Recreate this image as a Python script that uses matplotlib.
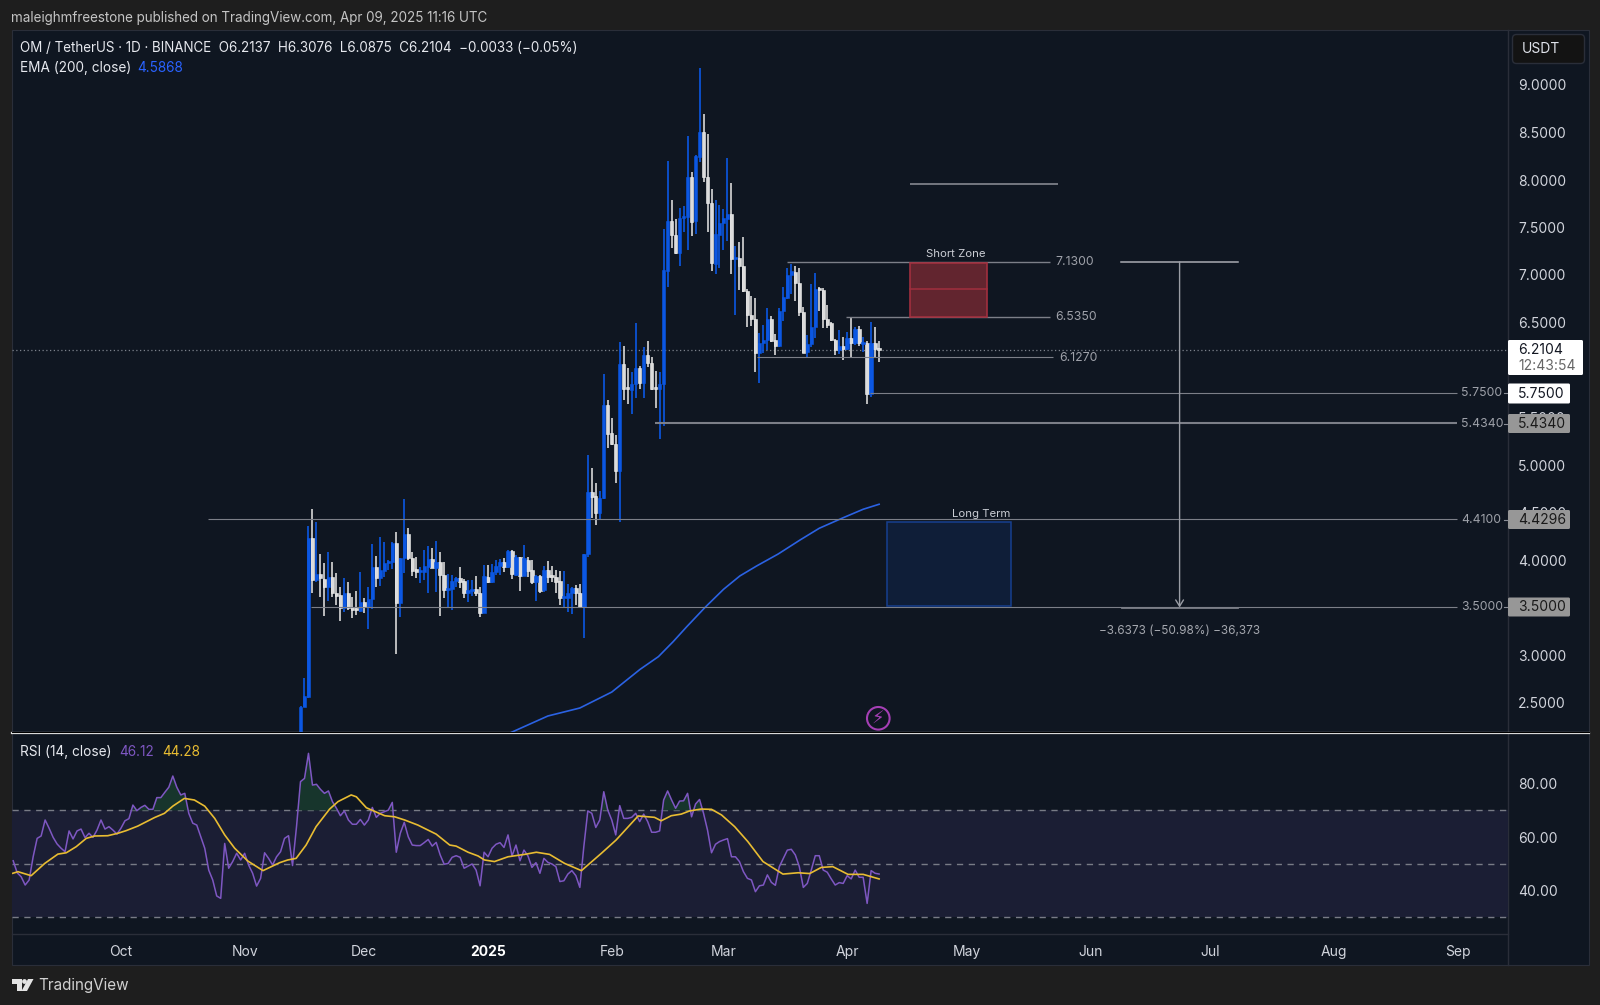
import pandas as pd
import numpy as np
import matplotlib
matplotlib.use("Agg")
import matplotlib.pyplot as plt
import matplotlib.dates as mdates
from matplotlib.patches import Rectangle, FancyBboxPatch, Polygon, Circle

plt.rcParams['font.family'] = ['Inter', 'DejaVu Sans']

# Candles, daily from 2024-11-15
candle_start = "2024-11-15"
opens = [2.000,2.456,2.561,4.228,3.789,3.849,3.800,3.719,3.824,3.656,
         3.631,3.491,3.649,3.509,3.491,3.466,3.561,3.502,3.586,3.923,
         3.807,3.888,3.965,3.982,4.175,3.551,4.017,4.270,4.017,3.902,
         3.877,3.877,3.930,4.007,3.919,3.975,3.842,3.684,3.695,3.779,
         3.807,3.779,3.656,3.677,3.691,3.656,3.445,3.824,3.772,3.877,
         3.937,3.975,3.923,4.098,3.842,4.028,3.835,4.000,3.895,3.772,
         3.831,3.684,3.895,3.831,3.824,3.779,3.596,3.603,3.649,3.702,
         3.656,3.502,4.063,4.712,4.677,4.498,4.649,5.631,5.333,5.221,
         4.940,6.063,5.807,5.789,5.853,6.017,5.860,6.158,6.070,5.800,
         5.796,5.852,7.045,7.565,7.424,7.228,7.600,7.614,8.035,7.565,
         8.245,8.502,8.028,7.754,7.116,7.421,7.544,7.593,7.642,7.165,
         7.175,7.098,6.835,6.575,6.533,6.175,6.287,6.315,6.533,6.315,
         6.252,6.624,6.754,7.000,7.031,6.912,6.614,6.189,6.273,6.449,
         6.849,6.842,6.533,6.491,6.315,6.210,6.256,6.217,6.333,6.280,
         6.435,6.273,6.280,5.743,6.280,6.2137]
highs = [2.463,2.754,4.358,4.533,4.403,4.063,3.965,4.081,3.982,3.859,
         3.719,3.814,3.765,3.614,3.674,3.870,3.596,3.712,4.168,4.042,
         4.245,4.193,4.000,4.193,4.298,4.017,4.638,4.333,4.088,4.035,
         3.930,4.105,4.147,4.123,4.203,4.081,3.982,3.849,3.842,3.817,
         3.930,3.800,3.789,3.789,3.835,3.712,3.947,3.947,3.958,4.000,
         4.007,4.017,4.105,4.105,4.052,4.035,4.158,4.035,4.000,3.842,
         3.842,3.937,3.989,3.937,3.895,3.888,3.888,3.747,3.719,3.737,
         3.744,4.063,5.105,4.965,4.807,4.730,5.958,5.684,5.491,5.316,
         6.298,6.253,6.017,5.982,6.490,6.042,6.239,6.305,6.133,5.993,
         5.982,7.480,8.200,7.789,7.586,7.701,7.726,8.463,8.087,8.263,
         9.175,8.695,8.484,7.902,7.789,7.733,7.691,8.235,7.965,7.305,
         7.351,7.403,6.849,6.779,6.754,6.386,6.473,6.649,6.568,6.379,
         6.649,6.877,7.070,7.116,7.095,7.070,6.666,6.368,6.905,7.024,
         6.877,6.859,6.684,6.508,6.322,6.421,6.351,6.403,6.543,6.456,
         6.463,6.351,6.305,6.501,6.456,6.3076]
lows = [1.900,2.450,2.544,3.656,3.772,3.614,3.410,3.572,3.607,3.526,
        3.361,3.456,3.473,3.386,3.421,3.456,3.445,3.273,3.480,3.719,
        3.726,3.824,3.895,3.902,3.010,3.403,3.867,4.000,3.831,3.807,
        3.761,3.789,3.649,3.912,3.666,3.410,3.603,3.509,3.473,3.719,
        3.709,3.596,3.561,3.621,3.621,3.403,3.438,3.761,3.754,3.842,
        3.842,3.877,3.912,3.796,3.835,3.677,3.830,3.824,3.747,3.572,
        3.649,3.666,3.754,3.765,3.656,3.526,3.491,3.456,3.428,3.526,
        3.491,3.175,4.035,4.438,4.368,4.428,4.640,5.175,5.210,4.814,
        4.403,5.684,5.642,5.533,5.702,5.796,5.702,6.028,5.790,5.603,
        5.274,5.410,6.877,7.280,7.221,7.098,7.452,7.263,7.410,7.431,
        8.186,7.982,7.449,7.045,7.010,7.070,7.263,7.361,7.010,6.579,
        6.842,6.824,6.456,6.463,5.982,5.859,6.175,6.210,6.298,6.158,
        6.245,6.519,6.747,6.796,6.730,6.568,6.175,6.140,6.245,6.333,
        6.624,6.438,6.438,6.308,6.158,6.168,6.105,6.210,6.123,6.263,
        6.252,6.193,5.642,5.712,6.123,6.0875]
closes = [2.456,2.568,4.228,3.789,3.849,3.807,3.719,3.824,3.656,3.624,
          3.491,3.649,3.491,3.473,3.473,3.561,3.502,3.586,3.930,3.807,
          3.895,3.965,3.982,4.175,3.551,4.017,4.270,4.017,3.888,3.877,
          3.888,3.937,4.007,3.919,3.982,3.842,3.684,3.702,3.779,3.807,
          3.772,3.656,3.684,3.691,3.656,3.445,3.831,3.772,3.877,3.937,
          3.982,3.923,4.098,3.852,4.035,3.835,4.017,3.888,3.772,3.831,
          3.677,3.895,3.824,3.817,3.772,3.596,3.614,3.656,3.702,3.656,
          3.502,4.063,4.712,4.667,4.498,4.649,5.631,5.326,5.221,4.940,
          6.063,5.796,5.796,5.853,6.017,5.860,6.158,6.070,5.796,5.796,
          5.853,7.052,7.565,7.424,7.228,7.600,7.614,8.035,7.561,8.252,
          8.502,8.035,7.754,7.123,7.431,7.544,7.600,7.642,7.165,7.179,
          7.098,6.835,6.575,6.540,6.182,6.287,6.315,6.533,6.305,6.252,
          6.624,6.765,7.000,7.042,6.912,6.614,6.182,6.273,6.449,6.849,
          6.842,6.533,6.473,6.315,6.210,6.256,6.217,6.333,6.280,6.435,
          6.280,6.280,5.743,6.280,6.217,6.2104]

# EMA 200, days counted from 2024-10-01
ema_days = [97,107,115,120,123,130.1,134.7,138.4,141.8,146.4,151,155.1,159.3,164.7,170.2,175,181,186,190]
ema_values = [2.17,2.358,2.442,2.547,2.61,2.849,2.983,3.141,3.298,3.502,3.691,3.832,3.937,4.063,4.211,4.334,4.445,4.534,4.5868]

# RSI, daily from 2024-09-04
rsi_start = "2024-09-04"
rsi_values = [51.1,46.6,45.1,42.0,43.9,52.6,59.5,60.4,66.4,63.3,59.9,57.4,55.8,54.5,62.3,59.3,62.3,63.0,59.8,61.4,
              59.9,62.6,66.4,63.0,63.9,62.6,61.1,63.3,66.1,66.9,72.0,69.9,71.1,71.9,70.4,70.4,74.8,74.8,76.8,78.7,
              82.9,78.7,75.8,76.4,68.9,65.2,64.5,60.1,55.8,47.6,43.9,37.9,37.0,57.6,48.3,50.8,53.9,51.4,53.9,49.5,
              46.4,41.6,44.5,54.1,52.0,49.5,52.6,54.5,59.5,60.5,49.3,63.9,80.8,82.0,91.4,79.5,79.8,77.9,76.4,77.3,
              73.3,70.8,68.0,69.8,66.4,64.8,64.8,66.6,64.5,66.4,71.1,67.4,68.9,69.5,70.1,73.0,54.3,61.4,65.5,60.1,
              57.0,56.8,56.8,57.9,59.1,56.6,58.0,53.3,49.8,50.1,52.4,53.0,52.4,48.3,49.1,49.9,47.6,41.7,54.3,52.6,
              55.8,57.3,57.9,56.1,60.8,52.9,57.0,51.1,55.1,52.9,48.6,50.4,46.4,52.0,50.5,49.9,48.9,43.3,43.6,46.1,
              47.4,45.5,41.1,56.4,69.8,68.9,63.6,66.4,77.0,70.1,66.4,60.8,71.8,67.0,67.0,67.4,68.9,65.8,68.6,65.8,
              61.8,61.8,62.3,73.9,77.3,73.9,70.8,73.5,73.6,76.4,67.6,72.4,74.1,68.9,62.6,54.1,57.3,58.3,58.9,59.4,
              52.6,52.6,50.8,47.0,44.5,43.9,39.5,41.7,42.0,45.8,43.0,41.9,48.9,52.0,55.1,55.4,53.3,48.9,41.1,42.6,
              47.6,53.0,53.0,47.6,46.8,44.3,42.0,42.9,42.6,45.5,44.3,47.6,44.9,44.9,35.1,47.4,46.4,46.12]

ma_days = [-27.1,-25.8,-22.5,-19.1,-15.8,-13.7,-11.2,-8.7,-6.6,-3.3,-0.8,1.3,4.2,8.4,10.9,13.0,15.9,18.4,21.0,23.5,
           26.0,28.5,31.8,35.6,37.7,39.8,41.8,43.9,46.4,48.9,52.3,54.4,57.7,59.0,61.5,66.1,68.6,71.1,74.4,79.0,
           82.4,84.0,87.0,89.5,91.1,93.6,97.0,101.2,104.1,107.4,111.2,115.4,120.4,124.1,129.6,133.7,135.4,137.9,140.4,142.5,
           145.4,148.0,150.5,153.8,157.1,160.9,165.9,169.7,172.6,175.5,178.4,182.2,186.0,190.0]
ma_values = [46.4,47.0,45.5,50.1,53.6,54.1,56.4,59.5,60.4,60.5,61.4,62.4,64.1,67.3,68.9,71.6,74.5,73.9,71.6,67.0,
             60.8,55.8,51.0,47.4,48.9,50.4,51.4,52.0,57.0,63.9,70.5,73.3,75.8,75.1,71.0,68.0,67.6,66.4,64.5,61.1,
             57.0,56.6,54.3,52.9,51.4,50.8,52.6,53.5,54.3,53.5,50.1,47.4,53.9,58.9,67.9,67.4,66.1,68.0,68.6,69.8,
             70.5,70.4,68.3,63.9,58.3,50.8,46.1,46.6,46.3,48.6,48.9,46.0,46.0,44.28]

# Axis ticks (6.0000 sits under the last price label)
price_ticks = [2.5,3.0,3.5,4.0,4.5,5.0,5.5,6.5,7.0,7.5,8.0,8.5,9.0]
rsi_ticks = [40,60,80]
month_dates = ["2024-10-01","2024-11-01","2024-12-01","2025-01-01","2025-02-01","2025-03-01",
               "2025-04-01","2025-05-01","2025-06-01","2025-07-01","2025-08-01","2025-09-01"]
month_labels = ["Oct","Nov","Dec","2025","Feb","Mar","Apr","May","Jun","Jul","Aug","Sep"]

# Drawn levels: price, first day, last day (from 2024-10-01)
levels = [(7.96,197.7,234.8,1.3),(7.14,166.8,232.8,1.0),(6.558,181.7,232.8,1.0),(6.137,159.3,233.6,0.8),
          (5.758,187.7,334.8,0.8),(5.439,133.8,334.8,1.5),(4.43,21.8,334.8,0.8),(3.508,47.6,334.8,0.8)]

W, H = 1600, 1005
BG = "#1e1e1e"
PANEL = "#0f1621"
TXT = "#d1d4dc"
GREY = "#7c7f88"
BLUE = "#0b57e3"
WHITE = "#dcdcdc"

fig = plt.figure(figsize=(W/100, H/100), dpi=100, facecolor=BG)


def px_axes(z):
    a = fig.add_axes([0, 0, 1, 1], zorder=z)
    a.set_xlim(0, W)
    a.set_ylim(H, 0)
    a.axis("off")
    a.patch.set_alpha(0)
    return a


def pane(left, top, right, bottom, z):
    return fig.add_axes([left/W, 1-bottom/H, (right-left)/W, (bottom-top)/H], zorder=z, facecolor="none")


back = px_axes(0)
back.add_patch(Rectangle((12, 30), 1577, 935, fc=PANEL, ec="#2a2e39", lw=0.8))
back.plot([1508, 1508], [30, 965], color="#2a2e39", lw=1)
back.plot([12, 1508], [934, 934], color="#2a2e39", lw=1)

base = mdates.date2num(pd.Timestamp("2024-10-01"))
xlim = (base-27.3, base+347.6)
month_x = mdates.date2num(pd.to_datetime(month_dates))

# Price pane
ax = pane(12, 30, 1508, 733, 2)
ax.set_xlim(*xlim)
ax.set_ylim(5-(733-465)/95, 5+(465-30)/95)
for s in ax.spines.values():
    s.set_visible(False)
ax.set_xticks([])
ax.yaxis.tick_right()
ax.set_yticks(price_ticks)
ax.set_yticklabels([f"{p:.4f}" for p in price_ticks], color=TXT, fontsize=10)
ax.tick_params(axis="y", length=0, pad=7.2)

x_c = mdates.date2num(pd.date_range(candle_start, periods=len(opens)))
o, h, l, c = map(np.array, (opens, highs, lows, closes))
up = c >= o
ax.vlines(x_c[~up], l[~up], h[~up], color="#d8d8d8", lw=1.2, zorder=3)
ax.vlines(x_c[up], l[up], h[up], color=BLUE, lw=1.2, zorder=3)
ax.bar(x_c[~up], np.maximum(o-c, 0.02)[~up], bottom=c[~up], width=0.85, color=WHITE,
       edgecolor="#f4f4f4", linewidth=0.4, zorder=4)
ax.bar(x_c[up], np.maximum(c-o, 0.02)[up], bottom=o[up], width=0.85, color=BLUE,
       edgecolor=BLUE, linewidth=0.4, zorder=4)

ax.plot(base+np.array(ema_days), ema_values, color="#2b62e3", lw=1.2, zorder=5)

# Last price line
ax.axhline(closes[-1], color="#7d828c", lw=0.9, ls=(0, (1, 2)), zorder=2)

for price, d0, d1, lw in levels:
    ax.plot([base+d0, base+d1], [price, price], color=GREY, lw=lw, zorder=6, solid_capstyle="butt")

# Short zone
ax.add_patch(Rectangle((base+197.8, 6.558), 19.2, 7.127-6.558, fc="#62252f", ec="#a12f3e", lw=1.2, zorder=7))
ax.plot([base+197.8, base+217], [6.85, 6.85], color="#a12f3e", lw=1.1, zorder=8)
# Long term zone
ax.add_patch(Rectangle((base+191.9, 3.513), 31.1, 4.395-3.513, fc="#0f1e38", ec="#163f8f", lw=1.1, zorder=7))

# Measure tool
ax.plot([base+250.6, base+280], [7.14, 7.14], color="#a9acb3", lw=1.1, zorder=8)
ax.plot([base+250.8, base+280], [3.495, 3.495], color=GREY, lw=1.3, zorder=8)
ax.annotate("", xy=(base+265.3, 3.50), xytext=(base+265.3, 7.14), zorder=8,
            arrowprops=dict(arrowstyle="->,head_width=0.28,head_length=0.45", color="#9a9da5", lw=1.0,
                            shrinkA=0, shrinkB=0))

# RSI pane
ax2 = pane(12, 733, 1508, 934, 2)
ax2.set_xlim(*xlim)
ax2.set_ylim(30-(934-917)/2.665, 70+(810.4-733)/2.665)
for s in ax2.spines.values():
    s.set_visible(False)
ax2.yaxis.tick_right()
ax2.set_yticks(rsi_ticks)
ax2.set_yticklabels([f"{v:.2f}" for v in rsi_ticks], color=TXT, fontsize=10)
ax2.tick_params(axis="y", length=0, pad=7.2)
ax2.set_xticks(month_x)
ax2.set_xticklabels(month_labels, color=TXT, fontsize=10)
ax2.tick_params(axis="x", length=0, pad=8)
ax2.get_xticklabels()[3].set_fontweight("bold")
ax2.get_xticklabels()[3].set_color("#ffffff")

x_r = mdates.date2num(pd.date_range(rsi_start, periods=len(rsi_values)))
rsi = np.array(rsi_values)
ax2.axhspan(30, 70, color="#1b1e34", lw=0, zorder=1)
for lv in (30, 50, 70):
    ax2.axhline(lv, color="#787b86", lw=1, ls=(0, (4.5, 4)), zorder=2)
ax2.fill_between(x_r, 70, rsi, where=rsi > 70, interpolate=True, color="#17352c", lw=0, zorder=2)
ax2.plot(x_r, rsi, color="#7e57c2", lw=1.1, zorder=3)
ax2.plot(base+np.array(ma_days), ma_values, color="#e8bc32", lw=1.2, zorder=4)

# Texts, price labels and logo on top
top = px_axes(10)
top.plot([12, 1589], [733, 733], color="#e6e6e6", lw=1.6)
top.plot([12, 1589], [731.5, 731.5], color="#000000", lw=0.8)

top.text(11, 17.5, "maleighmfreestone published on TradingView.com, Apr 09, 2025 11:16 UTC",
         color="#c4c4c4", fontsize=9.7, va="center")
top.text(20.5, 48, "OM / TetherUS · 1D · BINANCE  O6.2137  H6.3076  L6.0875  C6.2104  −0.0033 (−0.05%)",
         color="#e6e8ee", fontsize=9.68, va="center")
top.text(20.5, 67.5, "EMA (200, close)", color="#e6e8ee", fontsize=9.8, va="center")
top.text(137.5, 67.5, "4.5868", color="#2962ff", fontsize=9.8, va="center")
top.text(20.5, 751.5, "RSI (14, close)", color="#e6e8ee", fontsize=9.8, va="center")
top.text(119.5, 751.5, "46.12", color="#7e57c2", fontsize=9.8, va="center")
top.text(162, 751.5, "44.28", color="#e8bc32", fontsize=9.8, va="center")

small = dict(color="#9ea1a9", fontsize=8.8, va="center")
top.text(1055, 262, "7.1300", **small)
top.text(1055, 317, "6.5350", **small)
top.text(1059, 358, "6.1270", **small)
for y, s in [(393, "5.7500"), (423.5, "5.4340"), (519.5, "4.4100"), (607, "3.5000")]:
    top.text(1461, y, s, **small)
    top.plot([1504, 1508], [y, y], color="#8a8d96", lw=0.8)
top.text(955.5, 254, "Short Zone", color="#c9ccd3", fontsize=8.2, ha="center", va="center")
top.text(981.5, 513.5, "Long Term", color="#c9ccd3", fontsize=8.2, ha="center", va="center")
top.text(1180, 631, "−3.6373 (−50.98%) −36,373", color="#a4a7ae", fontsize=8.5, ha="center", va="center")

# Flash icon
top.add_patch(Circle((878.3, 718.3), 11.3, fc="none", ec="#a53fb5", lw=1.5))
top.text(878.3, 718.3, "⚡", color="#a53fb5", fontsize=13, ha="center", va="center", family="DejaVu Sans")

# Currency button
top.add_patch(FancyBboxPatch((1512.5, 34.5), 72, 29, boxstyle="round,pad=0,rounding_size=4",
                             fc="#131313", ec="#2a2e39", lw=1))
top.text(1522, 49, "USDT", color="#e0e3eb", fontsize=10, va="center")


def price_label(y0, y1, right, fc):
    top.add_patch(FancyBboxPatch((1508, y0), right-1508, y1-y0, boxstyle="round,pad=0,rounding_size=1.5",
                                 fc=fc, ec="none", zorder=5))


price_label(340, 375, 1583, "#ffffff")
top.text(1518, 349.5, "6.2104", color="#131722", fontsize=10, va="center", zorder=6)
top.text(1518, 365.5, "12:43:54", color="#666666", fontsize=10, va="center", zorder=6)
price_label(383.5, 403.5, 1570, "#ffffff")
top.text(1518, 393.5, "5.7500", color="#131722", fontsize=10, va="center", zorder=6)
for y, s in [(423.5, "5.4340"), (519.5, "4.4296"), (607, "3.5000")]:
    price_label(y-9.5, y+9.5, 1570, "#979797")
    top.text(1518, y, s, color="#1a1a1a", fontsize=10, va="center", zorder=6)

# Footer logo
logo = "#e4e4e4"
top.add_patch(Polygon([(11.5, 979), (22, 979), (22, 991), (17, 991), (17, 984), (11.5, 984)], fc=logo, ec="none"))
top.add_patch(Circle((24.5, 981.5), 2.4, fc=logo, ec="none"))
top.add_patch(Polygon([(28, 979), (33.5, 979), (27, 991), (21.5, 991)], fc=logo, ec="none"))
top.text(38, 985.5, "TradingView", color="#d0d0d0", fontsize=11, va="center")

fig.savefig("out.png", dpi=100, facecolor=BG)
